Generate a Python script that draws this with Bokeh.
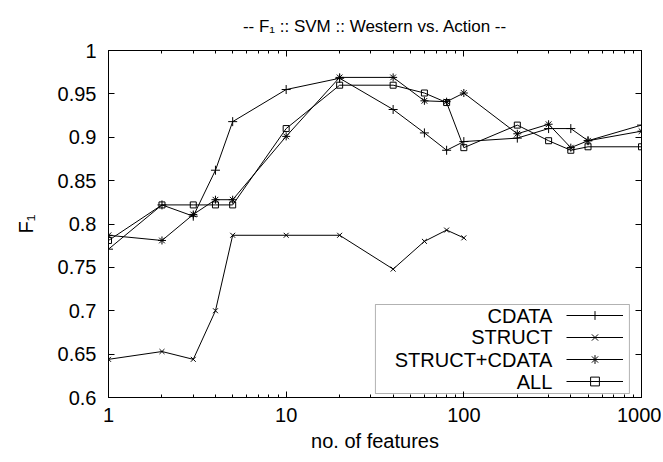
from bokeh.plotting import figure
from bokeh.models import (LogAxis, LinearAxis, FixedTicker, Label, BoxAnnotation,
                          Legend, LegendItem, Range1d)
from bokeh.core.properties import value
from bokeh.embed import file_html
from bokeh.resources import INLINE

# ---------------- data ----------------
features = [1, 2, 3, 4, 5, 10, 20, 40, 60, 80, 100, 200, 300, 400, 500, 1000]
cdata = [0.771, 0.822, 0.809, 0.862, 0.918, 0.955, 0.968, 0.932, 0.905, 0.885,
         0.895, 0.899, 0.910, 0.910, 0.896, 0.914]
struct_features = [1, 2, 3, 4, 5, 10, 20, 40, 60, 80, 100]
struct = [0.644, 0.653, 0.644, 0.700, 0.787, 0.787, 0.787, 0.748, 0.780, 0.793, 0.784]
struct_cdata = [0.787, 0.781, 0.811, 0.828, 0.828, 0.901, 0.969, 0.969, 0.942, 0.941,
                0.951, 0.904, 0.915, 0.888, 0.896, 0.907]
all_feats = [0.781, 0.822, 0.822, 0.822, 0.822, 0.910, 0.960, 0.960, 0.951, 0.940,
             0.888, 0.914, 0.896, 0.885, 0.889, 0.889]

series_names = ["CDATA", "STRUCT", "STRUCT+CDATA", "ALL"]

x_ticks = [1, 10, 100, 1000]
x_tick_labels = ["1", "10", "100", "1000"]
y_ticks = [0.6, 0.65, 0.7, 0.75, 0.8, 0.85, 0.9, 0.95, 1.0]
y_tick_labels = ["0.6", "0.65", "0.7", "0.75", "0.8", "0.85", "0.9", "0.95", "1"]

FONT = "Liberation Sans"
FS = "20px"
TITLE_FS = "17px"

p = figure(x_axis_type="log", x_range=Range1d(1, 1000), y_range=Range1d(0.6, 1.0),
           frame_width=533, frame_height=347,
           min_border_left=108, min_border_top=50, min_border_right=20, min_border_bottom=63,
           output_backend="svg", toolbar_location=None,
           title="-- F\u2081 :: SVM :: Western vs. Action --")
p.title.align = "center"
p.title.text_font = FONT
p.title.text_font_size = TITLE_FS
p.title.text_font_style = "normal"
p.title.text_color = "black"
p.title.standoff = 29
p.xgrid.visible = False
p.ygrid.visible = False
p.outline_line_color = "black"
p.outline_line_width = 1
p.background_fill_color = "white"
p.border_fill_color = "white"

minor = [m * 10 ** k for k in range(3) for m in range(2, 10)]
xticker = FixedTicker(ticks=x_ticks, minor_ticks=minor)
yticker = FixedTicker(ticks=y_ticks)


def style_axis(ax):
    ax.axis_line_color = "black"
    ax.major_tick_line_color = "black"
    ax.minor_tick_line_color = "black"
    ax.major_tick_in = 6
    ax.major_tick_out = 0
    ax.minor_tick_in = 3
    ax.minor_tick_out = 0
    ax.major_label_text_font = FONT
    ax.major_label_text_font_size = FS
    ax.major_label_text_color = "black"
    ax.axis_label_text_font = FONT
    ax.axis_label_text_font_size = FS
    ax.axis_label_text_font_style = "normal"
    ax.axis_label_text_color = "black"


xa = p.xaxis[0]
xa.ticker = xticker
xa.major_label_overrides = dict(zip(x_ticks, x_tick_labels))
xa.axis_label = "no. of features"
style_axis(xa)
xa.major_label_standoff = 10
xa.axis_label_standoff = 5

ya = p.yaxis[0]
ya.ticker = yticker
ya.major_label_overrides = dict(zip(y_ticks, y_tick_labels))
ya.axis_label = "F\u2081"
style_axis(ya)
ya.major_label_standoff = 12
ya.axis_label_standoff = 18

top = LogAxis(ticker=xticker)
style_axis(top)
top.major_label_text_font_size = "2px"
top.major_label_text_alpha = 0
top.major_label_standoff = 0
p.add_layout(top, "above")

right = LinearAxis(ticker=yticker)
style_axis(right)
right.major_label_text_font_size = "2px"
right.major_label_text_alpha = 0
right.major_label_standoff = 0
p.add_layout(right, "right")

# ---------------- series ----------------
specs = [
    (features, cdata, "cross", 9),
    (struct_features, struct, "x", 7),
    (features, struct_cdata, "asterisk", 8),
    (features, all_feats, "square", 6),
]
items = []
for (xs, ys, mk, sz), name in zip(specs, series_names):
    lr = p.line(xs, ys, line_color="black", line_width=1)
    sr = p.scatter(xs, ys, marker=mk, size=sz, line_color="black",
                   fill_color=None, line_width=1)
    items.append(LegendItem(label=value(" "), renderers=[lr, sr]))

# ---------------- legend (gnuplot style: text left, sample right) ----------------
legend = Legend(items=items, location=(458, 5), orientation="vertical",
                padding=0, spacing=0, margin=0, glyph_width=57, glyph_height=22,
                label_width=1, label_height=22, label_standoff=0,
                label_text_font_size="10px", border_line_color=None,
                background_fill_alpha=0)
p.add_layout(legend)

legend_box = BoxAnnotation(left=31.8, right=855, bottom=0.6046, top=0.7072,
                           fill_color=None, line_color="black", line_width=1)
p.add_layout(legend_box)

legend_text_x = 315
legend_rows_y = [0.6945, 0.6692, 0.6438, 0.6184]
for name, yy in zip(series_names, legend_rows_y):
    p.add_layout(Label(x=legend_text_x, y=yy, text=name, text_align="right",
                       text_baseline="middle", text_font=FONT, text_font_size=FS,
                       text_color="black"))

open("out.html", "w").write(file_html(p, INLINE))
